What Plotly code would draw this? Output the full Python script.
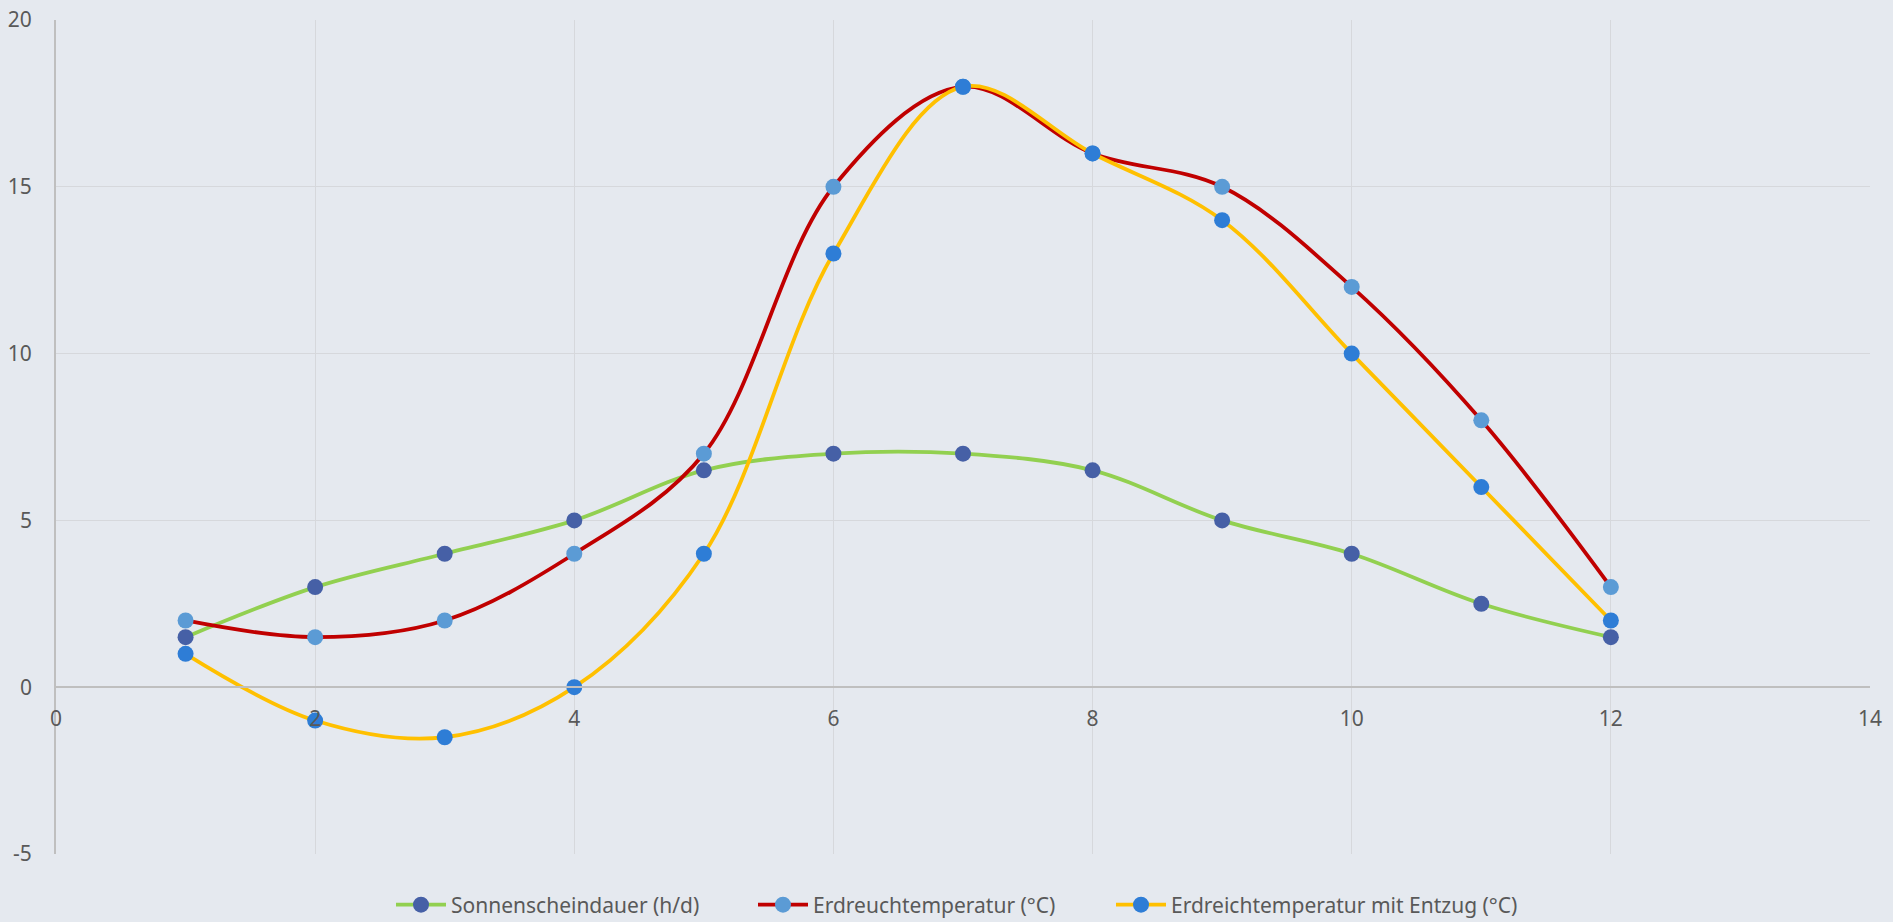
import plotly.graph_objects as go

months = [1, 2, 3, 4, 5, 6, 7, 8, 9, 10, 11, 12]
sonne = [1.5, 3, 4, 5, 6.5, 7, 7, 6.5, 5, 4, 2.5, 1.5]
erdreuch = [2, 1.5, 2, 4, 7, 15, 18, 16, 15, 12, 8, 3]
entzug = [1, -1, -1.5, 0, 4, 13, 18, 16, 14, 10, 6, 2]

y_ticks = [-5, 0, 5, 10, 15, 20]
y_ticktext = ["-5", "0", "5", "10", "15", "20"]

names = ["Sonnenscheindauer (h/d)", "Erdreuchtemperatur (°C)", "Erdreichtemperatur mit Entzug (°C)"]
series = [sonne, erdreuch, entzug]
line_colors = ["#92D050", "#C00000", "#FFC000"]
marker_colors = ["#4660A6", "#5B9BD5", "#2E7DD6"]
legend_ids = ["legend", "legend2", "legend3"]
legend_left_px = [391, 753, 1111]

bg = "#E5E9EF"
W, H = 1893, 922
fig = go.Figure()
for n, s, lc, mc, lg in zip(names, series, line_colors, marker_colors, legend_ids):
    fig.add_trace(go.Scatter(
        x=months, y=s, name=n, mode="lines+markers", legend=lg,
        line=dict(color=lc, width=3.8, shape="spline", smoothing=1.0),
        marker=dict(color=mc, size=16, line=dict(width=0)),
    ))

legend_common = dict(orientation="h", xanchor="left", xref="container",
                     y=(H - 905) / H, yanchor="middle", yref="container",
                     font=dict(size=21, color="#595959"), itemwidth=50,
                     bgcolor="rgba(0,0,0,0)")

fig.update_layout(
    width=W, height=H,
    paper_bgcolor=bg, plot_bgcolor=bg,
    margin=dict(l=56, r=23, t=20, b=68, autoexpand=False),
    font=dict(family="Noto Sans", size=21, color="#595959"),
    showlegend=True,
    legend=dict(x=legend_left_px[0] / W, **legend_common),
    legend2=dict(x=legend_left_px[1] / W, **legend_common),
    legend3=dict(x=legend_left_px[2] / W, **legend_common),
    xaxis=dict(range=[0, 14], dtick=2, tick0=0, showgrid=True, gridcolor="#D6D8DC", gridwidth=1.3,
               zeroline=False, showline=True, linecolor="#BFBFBF", linewidth=1.8,
               anchor="free", position=0.2, ticks="outside", ticklen=13, tickcolor="rgba(0,0,0,0)",
               tickfont=dict(size=21, color="#595959"), automargin=False),
    yaxis=dict(range=[-5, 20], tickvals=y_ticks, ticktext=y_ticktext, showgrid=True,
               gridcolor="#D6D8DC", gridwidth=1.3,
               zeroline=True, zerolinecolor="#BFBFBF", zerolinewidth=1.8,
               showline=True, linecolor="#BFBFBF", linewidth=1.8, domain=[0, 1],
               ticks="outside", ticklen=18, tickcolor="rgba(0,0,0,0)",
               tickfont=dict(size=21, color="#595959"), automargin=False),
)

fig.write_html("out.html", post_script="document.body.style.margin='0';",
               config={"displayModeBar": False})
